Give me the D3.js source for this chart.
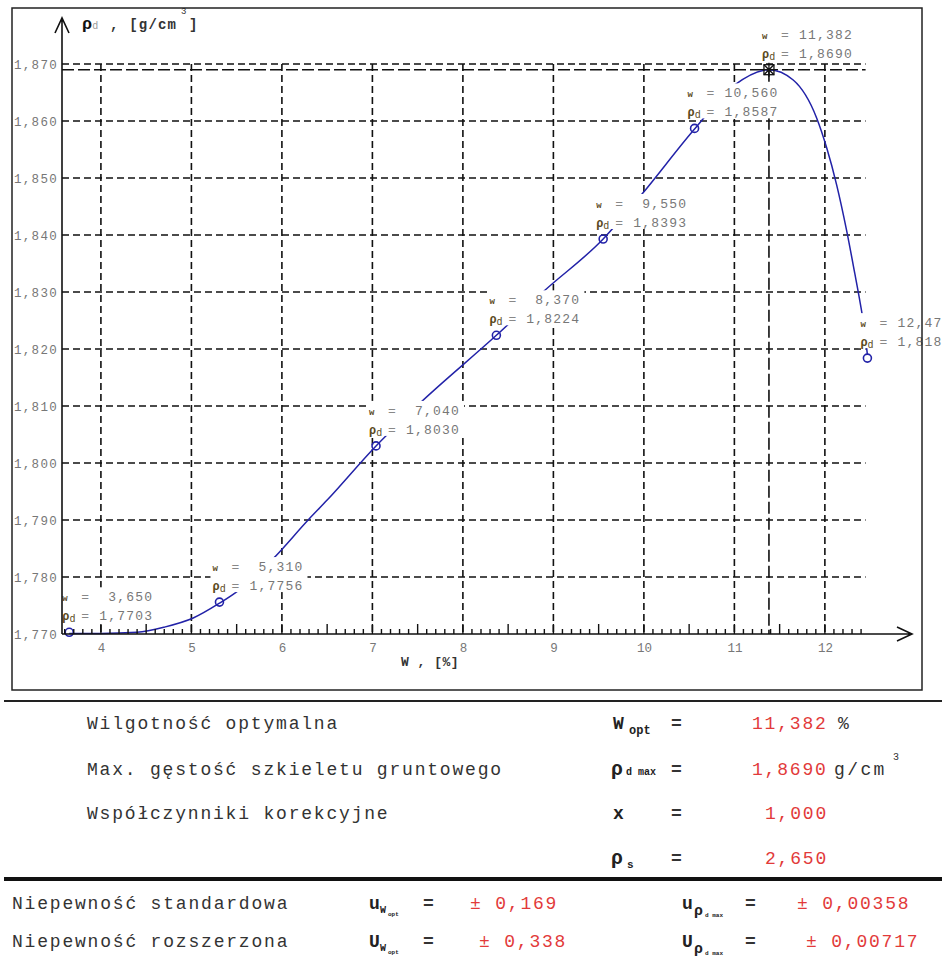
<!DOCTYPE html>
<html>
<head>
<meta charset="utf-8">
<script src="https://cdn.jsdelivr.net/npm/d3@7"></script>
<style>
  body { margin: 0; background: #fff; }
  svg { display: block; }
</style>
</head>
<body>
<div id="chart"></div>
<script>
// measured points of the Proctor test
const wValues   = [3.650, 5.310, 7.040, 8.370, 9.550, 10.560, 12.470];
const rhoValues = [1.7703, 1.7756, 1.8030, 1.8224, 1.8393, 1.8587, 1.8184];

// fitted compaction curve
const fitW   = [3.65, 4.0, 4.4, 4.7, 5.02, 5.31, 5.5, 5.89, 6.29, 6.5, 7.04, 7.525, 8.37, 8.906,
                9.55, 9.97, 10.56, 11.0, 11.382, 11.65, 11.91, 12.02, 12.13, 12.24, 12.33, 12.38, 12.43, 12.47];
const fitRho = [1.7701, 1.7701, 1.7703, 1.7712, 1.7728, 1.7754, 1.7774, 1.7830, 1.7900, 1.7935,
                1.8030, 1.8105, 1.8224, 1.8303, 1.8393, 1.8470, 1.8586, 1.8663, 1.8690, 1.8672,
                1.8605, 1.8553, 1.8488, 1.8408, 1.8333, 1.8290, 1.8242, 1.8190];

// axis ticks
const xTicks = [4, 5, 6, 7, 8, 9, 10, 11, 12];
const yTicks = [1.770, 1.780, 1.790, 1.800, 1.810, 1.820, 1.830, 1.840, 1.850, 1.860, 1.870];

// results table
const summaryLabels = ["Wilgotność optymalna", "Max. gęstość szkieletu gruntowego", "Współczynniki korekcyjne"];
const summaryValues = [11.382, 1.8690, 1.000, 2.650];   // Wopt, rho d max, x, rho s
const uncertaintyLabels = ["Niepewność standardowa", "Niepewność rozszerzona"];
const uncertW   = [0.169, 0.338];
const uncertRho = [0.00358, 0.00717];

const wOpt = summaryValues[0], rhoMax = summaryValues[1];

const locale = d3.formatLocale({decimal: ",", thousands: " ", grouping: [3], currency: ["", ""]});
const f3 = locale.format(".3f"), f4 = locale.format(".4f"), f5 = locale.format(".5f");

const W = 942, H = 961;
const monoFont = "'Liberation Mono', 'DejaVu Sans Mono', monospace";
const blue = "#2222a8", red = "#e23a3a", ink = "#333";

const svg = d3.select("#chart").append("svg")
    .attr("width", W)
    .attr("height", H)
    .style("font-family", monoFont);

const x = d3.scaleLinear().domain([3.57, 12.45]).range([62, 865.6]);
const y = d3.scaleLinear().domain([1.77, 1.87]).range([634, 64]);

// grid
let grid = svg.append("g")
    .attr("stroke", "#111")
    .attr("stroke-width", 1.6)
    .attr("stroke-dasharray", "7,4");

grid.selectAll("line.h")
    .data(yTicks.slice(1))
    .enter().append("line")
        .attr("x1", x.range()[0]).attr("x2", x.range()[1])
        .attr("y1", d => y(d)).attr("y2", d => y(d));

grid.selectAll("line.v")
    .data(xTicks)
    .enter().append("line")
        .attr("x1", d => x(d)).attr("x2", d => x(d))
        .attr("y1", y(1.87)).attr("y2", y(1.77));

// optimum lines
svg.append("line")
    .attr("x1", x.range()[0]).attr("x2", x.range()[1])
    .attr("y1", y(rhoMax)).attr("y2", y(rhoMax))
    .attr("stroke", "#111").attr("stroke-width", 1.6)
    .attr("stroke-dasharray", "12,4");
svg.append("line")
    .attr("x1", x(wOpt)).attr("x2", x(wOpt))
    .attr("y1", y(rhoMax)).attr("y2", y(1.77))
    .attr("stroke", "#111").attr("stroke-width", 1.6)
    .attr("stroke-dasharray", "12,4");

// fitted curve
let line = d3.line()
    .curve(d3.curveMonotoneX)
    .x((d, i) => x(fitW[i]))
    .y(d => y(d));

svg.append("path")
    .datum(fitRho)
    .attr("fill", "none")
    .attr("stroke", blue)
    .attr("stroke-width", 1.5)
    .attr("d", line);

// point labels (opaque, they hide grid and curve below)
let labelPts = wValues.map((w, i) => ({w: w, rho: rhoValues[i]}));
labelPts.push({w: wOpt, rho: rhoMax});

let labels = svg.append("g")
    .selectAll("g")
    .data(labelPts)
    .enter().append("g")
        .attr("transform", d => `translate(${x(d.w)},${y(d.rho)})`)
        .style("font-size", "13px");

labels.append("rect")
    .attr("x", -9).attr("y", -45)
    .attr("width", 97).attr("height", 35)
    .attr("fill", "#fff");

labels.append("text")
    .attr("x", -7).attr("y", -31)
    .attr("fill", "#5a4a22")
    .style("font-size", "9px")
    .style("font-weight", "bold")
    .text("w");
labels.append("text")
    .attr("x", 12).attr("y", -31)
    .attr("fill", "#888")
    .text("=");
labels.append("text")
    .attr("x", 84).attr("y", -31)
    .attr("text-anchor", "end")
    .attr("fill", "#777")
    .style("letter-spacing", "1.2px")
    .text(d => f3(d.w));

let rhoLbl = labels.append("text")
    .attr("x", -7).attr("y", -12)
    .attr("fill", "#5a4a22")
    .style("font-weight", "bold");
rhoLbl.append("tspan").style("font-size", "12px").text("ρ");
rhoLbl.append("tspan").attr("dy", 2).style("font-size", "10px").style("font-weight", "normal").text("d");
labels.append("text")
    .attr("x", 12).attr("y", -12)
    .attr("fill", "#888")
    .text("=");
labels.append("text")
    .attr("x", 84).attr("y", -12)
    .attr("text-anchor", "end")
    .attr("fill", "#777")
    .style("letter-spacing", "1.2px")
    .text(d => f4(d.rho));

// markers
svg.append("g")
    .selectAll("circle")
    .data(wValues)
    .enter().append("circle")
        .attr("cx", d => x(d))
        .attr("cy", (d, i) => y(rhoValues[i]))
        .attr("r", 4)
        .attr("fill", "none")
        .attr("stroke", blue)
        .attr("stroke-width", 1.6);

let opt = svg.append("g")
    .attr("transform", `translate(${x(wOpt)},${y(rhoMax)})`)
    .attr("stroke", "#111")
    .attr("stroke-width", 1.3)
    .attr("fill", "none");
opt.append("rect").attr("x", -5).attr("y", -5).attr("width", 10).attr("height", 10);
opt.append("path").attr("d", "M-5,-5L5,5M5,-5L-5,5M0,-7V7M-7,0H7");

// axes
let yAxis = svg.append("g")
    .attr("transform", `translate(${x.range()[0]},0)`)
    .call(d3.axisLeft(y).tickValues(yTicks).tickFormat(f3).tickSize(0).tickPadding(4));
yAxis.select(".domain").remove();
yAxis.selectAll("text")
    .attr("fill", "#777")
    .style("font-family", monoFont)
    .style("font-size", "12.5px")
    .style("letter-spacing", "1.3px");

let xAxis = svg.append("g")
    .attr("transform", `translate(0,${y(1.77)})`)
    .call(d3.axisBottom(x).tickValues(xTicks).tickFormat(d3.format("d")).tickSize(0).tickPadding(9));
xAxis.select(".domain").remove();
xAxis.selectAll("text")
    .attr("fill", "#777")
    .style("font-family", monoFont)
    .style("font-size", "12.5px");

// minor ticks on the W axis
svg.append("g")
    .selectAll("line")
    .data(d3.range(36, 125).map(i => i / 10))
    .enter().append("line")
        .attr("x1", d => x(d)).attr("x2", d => x(d))
        .attr("y1", y(1.77))
        .attr("y2", d => y(1.77) - (Math.abs(d * 2 - Math.round(d * 2)) < 1e-6 ? 10 : 5))
        .attr("stroke", "#111")
        .attr("stroke-width", 1.4);

// axis lines with arrows
svg.append("path")
    .attr("d", `M${x.range()[0]},${y(1.77)}V18M${x.range()[0] - 7},33L${x.range()[0]},18L${x.range()[0] + 7},33`
        + `M${x.range()[0]},${y(1.77)}H912M897,627L912,634L897,641`)
    .attr("fill", "none")
    .attr("stroke", "#111")
    .attr("stroke-width", 1.6);

// axis titles
let yTitle = svg.append("text").attr("x", 82).attr("y", 29).attr("fill", ink)
    .style("font-weight", "bold").style("font-size", "14px");
yTitle.append("tspan").style("font-size", "17px").attr("fill", "#111").text("ρ");
yTitle.append("tspan").attr("fill", "#999").style("font-size", "10px").style("font-weight", "normal").text("d");
yTitle.append("tspan").attr("x", 110).style("letter-spacing", "1.2px").text(",  [g/cm");
yTitle.append("tspan").attr("x", 181).attr("y", 14).style("font-size", "9px").style("font-weight", "normal").text("3");
yTitle.append("tspan").attr("x", 189).attr("y", 29).text("]");

svg.append("text")
    .attr("x", 401).attr("y", 666)
    .attr("fill", ink)
    .style("font-weight", "bold").style("font-size", "13px")
    .style("letter-spacing", "0.5px")
    .text("W , [%]");

// frame
svg.append("rect")
    .attr("x", 12).attr("y", 8).attr("width", 910).attr("height", 682)
    .attr("fill", "none").attr("stroke", "#222").attr("stroke-width", 1.5);

// results table
svg.append("line").attr("x1", 4).attr("x2", W).attr("y1", 701).attr("y2", 701)
    .attr("stroke", "#222").attr("stroke-width", 2);
svg.append("line").attr("x1", 4).attr("x2", W).attr("y1", 879).attr("y2", 879)
    .attr("stroke", "#111").attr("stroke-width", 4);

function txt(px, py, s, size, color, weight, spacing) {
    return svg.append("text")
        .attr("x", px).attr("y", py)
        .attr("fill", color || ink)
        .style("font-size", (size || 18) + "px")
        .style("font-weight", weight || "normal")
        .style("letter-spacing", (spacing === undefined ? 1.8 : spacing) + "px")
        .text(s);
}

const rowY = [729, 775, 819, 864];
summaryLabels.forEach((s, i) => txt(87, rowY[i], s));

// symbols
txt(613, rowY[0], "W", 18, "#222", "bold", 0);
txt(629, rowY[0] + 5, "opt", 12, "#222", "bold", 0);
txt(611, rowY[1], "ρ", 20, "#222", "bold", 0);
txt(626, rowY[1], "d max", 10, "#222", "bold", 0);
txt(613, rowY[2], "x", 18, "#222", "bold", 0);
txt(611, rowY[3], "ρ", 20, "#222", "bold", 0);
txt(627, rowY[3] + 4, "s", 11, "#222", "bold", 0);
rowY.forEach(ry => txt(671, ry, "=", 18, ink, "bold", 0));

// values
txt(752, rowY[0], f3(summaryValues[0]), 18, red);
txt(838, rowY[0], "%", 18, ink);
txt(752, rowY[1], f4(summaryValues[1]), 18, red);
txt(834, rowY[1], "g/cm", 18, ink, "normal", 2.4);
txt(893, rowY[1] - 15, "3", 10, ink, "normal", 0);
txt(765, rowY[2], f3(summaryValues[2]), 18, red);
txt(765, rowY[3], f3(summaryValues[3]), 18, red);

// uncertainties
const uRowY = [909, 947];
uncertaintyLabels.forEach((s, i) => txt(12, uRowY[i], s));
["u", "U"].forEach((s, i) => {
    const ry = uRowY[i];
    txt(369, ry, s, 18, "#222", "bold", 0);
    txt(380, ry + 4, "W", 10, "#222", "bold", 0);
    txt(388, ry + 7, "opt", 6, "#222", "bold", 0);
    txt(423, ry, "=", 18, ink, "bold", 0);
    txt(682, ry, s, 18, "#222", "bold", 0);
    txt(694, ry + 6, "ρ", 15, "#222", "bold", 0);
    txt(705, ry + 8, "d max", 6, "#222", "bold", 0);
    txt(745, ry, "=", 18, ink, "bold", 0);
});
txt(470, uRowY[0], "± " + f3(uncertW[0]), 18, red);
txt(479, uRowY[1], "± " + f3(uncertW[1]), 18, red);
txt(797, uRowY[0], "± " + f5(uncertRho[0]), 18, red);
txt(806, uRowY[1], "± " + f5(uncertRho[1]), 18, red);
</script>
</body>
</html>
